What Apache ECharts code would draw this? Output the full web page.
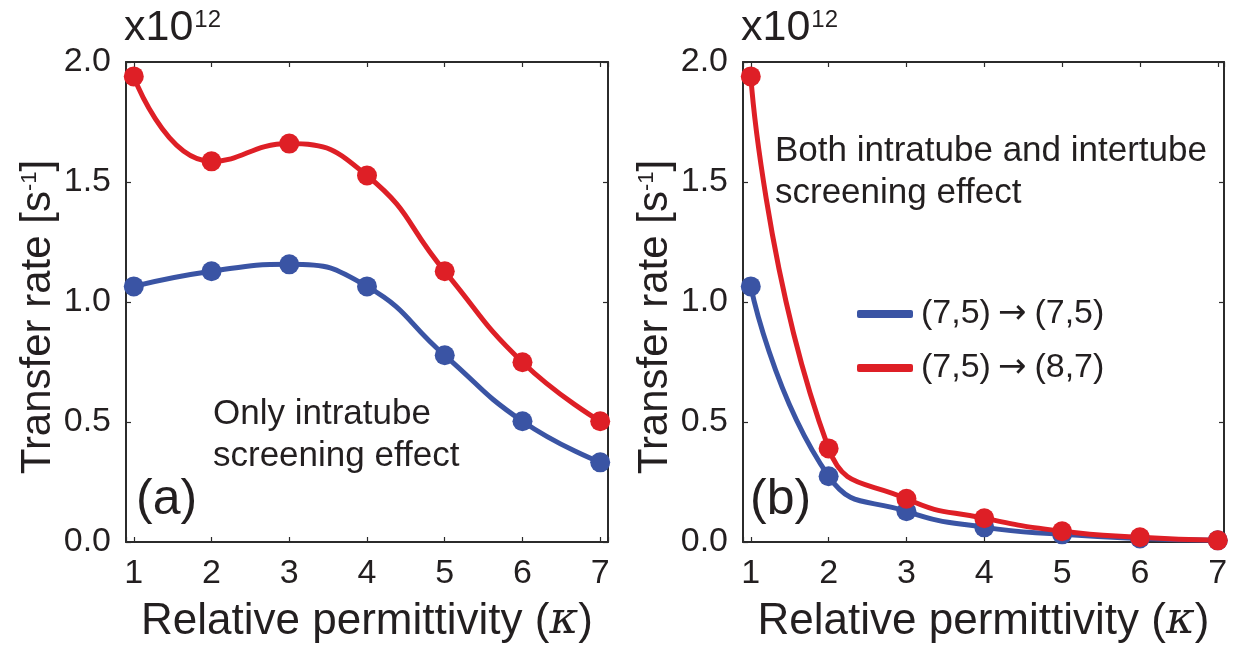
<!DOCTYPE html>
<html>
<head>
<meta charset="utf-8">
<script src="https://cdn.jsdelivr.net/npm/echarts@6/dist/echarts.min.js"></script>
<style>
html,body{margin:0;padding:0;background:#fff;}
#chart{width:1233px;height:651px;}
</style>
</head>
<body>
<div id="chart"></div>
<script>
// ---- data ----
const kappa = [1, 2, 3, 4, 5, 6, 7];
const intraSame  = [1.065, 1.128, 1.157, 1.065, 0.778, 0.503, 0.332]; // (a) (7,5)->(7,5)
const intraCross = [1.94, 1.586, 1.66, 1.527, 1.128, 0.749, 0.503];   // (a) (7,5)->(8,7)
const bothSame   = [1.065, 0.274, 0.128, 0.061, 0.032, 0.015, 0.007]; // (b) (7,5)->(7,5)
const bothCross  = [1.94, 0.39, 0.18, 0.099, 0.045, 0.02, 0.007];     // (b) (7,5)->(8,7)
const yTicks = [0.0, 0.5, 1.0, 1.5, 2.0];
const nameSame = '(7,5)\u2192(7,5)';
const nameCross = '(7,5)\u2192(8,7)';

const FONT = '"Liberation Sans", Arial, Helvetica, sans-serif';
const TXT = '#231f20';
const AX = '#2b2b2b';
const RED = '#de1f26';
const BLUE = '#3a54a4';

const pairs = (xs, ys) => xs.map((x, i) => [x, ys[i]]);

function xAxes(gi) {
  const common = {
    type: 'value', gridIndex: gi, min: 0.9, max: gi === 0 ? 7.1 : 7.08, splitNumber: 6,
    axisLine: {show: true, onZero: false, lineStyle: {color: AX, width: 2}},
    axisTick: {show: true, inside: true, length: 5, lineStyle: {color: AX, width: 1.2}},
    splitLine: {show: false}
  };
  return [
    Object.assign({}, common, {
      position: 'bottom',
      axisLabel: {
        show: true, margin: 15, fontSize: 34, color: TXT, fontFamily: FONT,
        formatter: v => (Math.abs(v - Math.round(v)) < 1e-6 ? String(Math.round(v)) : '')
      },
      name: '{a|Relative permittivity (}{k|\u03ba}{a|)}',
      nameLocation: 'middle', nameGap: 58,
      nameTextStyle: {
        rich: {
          a: {fontSize: 44, color: TXT, fontFamily: FONT},
          k: {fontSize: 44, color: TXT, fontFamily: '"DejaVu Serif", "Liberation Serif", serif', fontStyle: 'italic'}
        }
      }
    }),
    Object.assign({}, common, {position: 'top', axisLabel: {show: false}})
  ];
}

function yAxes(gi) {
  const common = {
    type: 'value', gridIndex: gi, min: 0, max: 2, interval: 0.5,
    axisLine: {show: true, onZero: false, lineStyle: {color: AX, width: 2}},
    axisTick: {show: true, inside: true, length: 5, lineStyle: {color: AX, width: 1.2}},
    splitLine: {show: false}
  };
  return [
    Object.assign({}, common, {
      position: 'left',
      axisLabel: {show: true, margin: 15, fontSize: 34, color: TXT, fontFamily: FONT,
        formatter: v => v.toFixed(1)},
      name: '{a|Transfer rate [s}{b|-1}{c|]}',
      nameLocation: 'middle', nameGap: 64, nameRotate: 90,
      nameTextStyle: {
        rich: {
          a: {fontSize: 42, lineHeight: 48, color: TXT, fontFamily: FONT},
          b: {fontSize: 22, lineHeight: 48, color: TXT, fontFamily: FONT, verticalAlign: 'top', padding: [5, 0, 0, 0]},
          c: {fontSize: 42, lineHeight: 48, color: TXT, fontFamily: FONT, padding: [0, 30, 0, 0]}
        }
      }
    }),
    Object.assign({}, common, {position: 'right', axisLabel: {show: false}})
  ];
}

function lineSeries(name, data, color, xi, yi) {
  return {
    name: name, type: 'line', xAxisIndex: xi, yAxisIndex: yi,
    data: data, smooth: 0.5,
    symbol: 'circle', symbolSize: 20,
    lineStyle: {color: color, width: 5},
    itemStyle: {color: color},
    clip: false, z: 3
  };
}

function sciTitle(left) {
  return {
    text: '{a|x10}{b|12}', left: left, top: 4, padding: 0,
    textStyle: {
      fontWeight: 'normal',
      rich: {
        a: {fontSize: 43, lineHeight: 48, color: TXT, fontFamily: FONT, fontWeight: 'normal'},
        b: {fontSize: 24, lineHeight: 48, color: TXT, fontFamily: FONT, fontWeight: 'normal', verticalAlign: 'top', padding: [4, 0, 0, 1]}
      }
    }
  };
}

function textTitle(text, left, top, size, lh) {
  return {
    text: text, left: left, top: top, padding: 0,
    textStyle: {fontSize: size, lineHeight: lh, color: TXT, fontFamily: FONT, fontWeight: 'normal'}
  };
}

const chart = echarts.init(document.getElementById('chart'), null, {renderer: 'canvas'});
chart.setOption({
  animation: false,
  backgroundColor: '#fff',
  title: [
    sciTitle(124),
    sciTitle(741),
    textTitle('Only intratube\nscreening effect', 213, 393, 35, 42),
    textTitle('(a)', 136, 473, 50, 54),
    textTitle('Both intratube and intertube\nscreening effect', 775, 130, 35, 42),
    textTitle('(b)', 750, 473, 50, 54)
  ],
  legend: {
    show: true, orient: 'vertical', left: 852, top: 289,
    itemWidth: 56, itemHeight: 8, itemGap: 14, icon: 'roundRect',
    data: [nameSame, nameCross],
    formatter: n => {
      const p = n.split('\u2192');
      return '{t|' + p[0] + '}{r|\u2192}{t|' + p[1] + '}';
    },
    textStyle: {
      fontSize: 34, lineHeight: 40, color: TXT, fontFamily: FONT, padding: [0, 0, 0, 3],
      rich: {
        t: {fontSize: 34, lineHeight: 40, color: TXT, fontFamily: FONT},
        r: {fontSize: 34, lineHeight: 40, color: TXT, fontFamily: '"DejaVu Sans", sans-serif', padding: [0, 8, 0, 7]}
      }
    },
    selectedMode: false
  },
  grid: [
    {left: 126, top: 62, width: 482, height: 480, containLabel: false},
    {left: 743, top: 62, width: 481, height: 480, containLabel: false}
  ],
  xAxis: [...xAxes(0), ...xAxes(1)],
  yAxis: [...yAxes(0), ...yAxes(1)],
  series: [
    lineSeries(nameSame, pairs(kappa, intraSame), BLUE, 0, 0),
    lineSeries(nameCross, pairs(kappa, intraCross), RED, 0, 0),
    lineSeries(nameSame, pairs(kappa, bothSame), BLUE, 2, 2),
    lineSeries(nameCross, pairs(kappa, bothCross), RED, 2, 2)
  ]
});
</script>
</body>
</html>
